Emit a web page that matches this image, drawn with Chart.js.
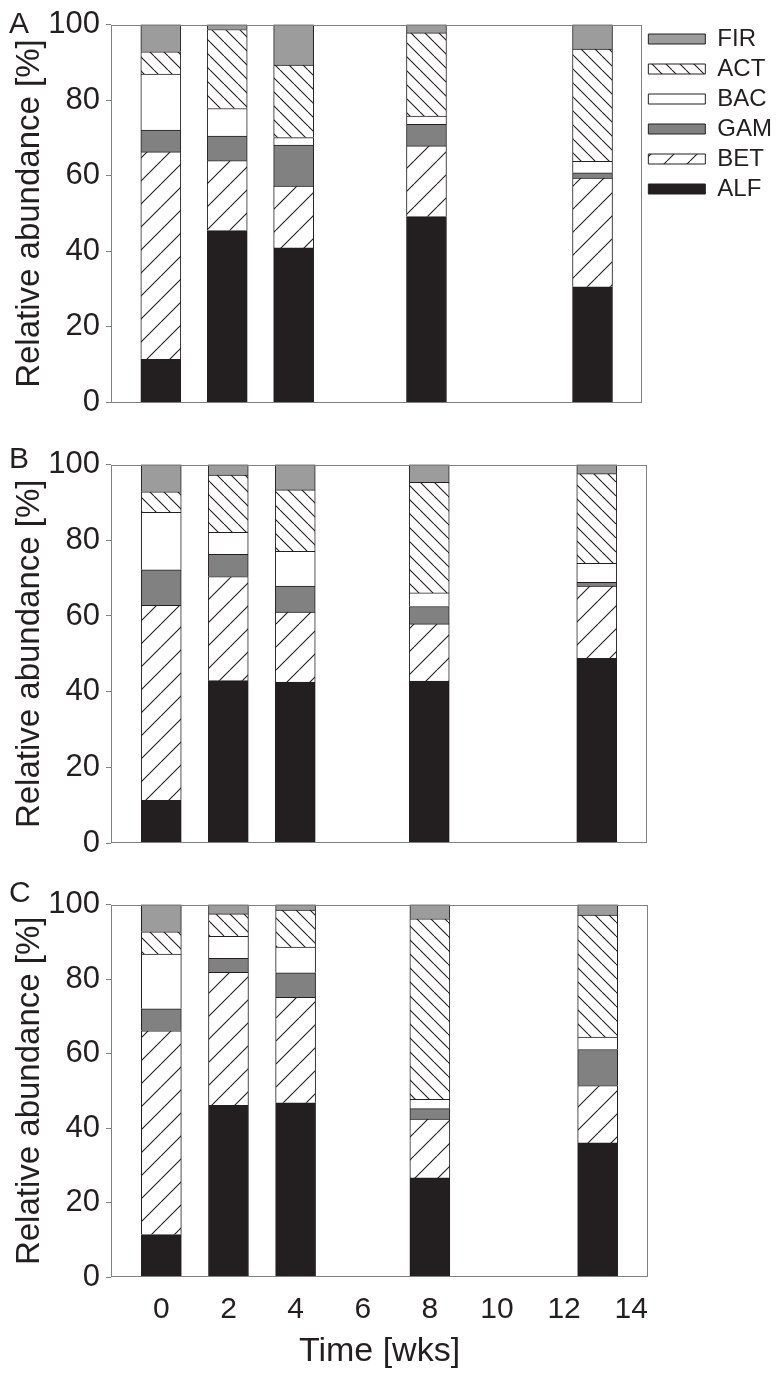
<!DOCTYPE html>
<html>
<head>
<meta charset="utf-8">
<title>Relative abundance</title>
<script src="https://cdn.jsdelivr.net/npm/chart.js@4.4.1/dist/chart.umd.min.js"></script>
<style>
  body { margin: 0; background: #fff; }
  #wrap { position: relative; width: 782px; height: 1376px; }
  canvas { position: absolute; left: 0; }
</style>
</head>
<body>
<div id="wrap">
  <canvas id="chartA" width="782" height="440" style="top:0px"></canvas>
  <canvas id="chartB" width="782" height="440" style="top:440px"></canvas>
  <canvas id="chartC" width="782" height="496" style="top:880px"></canvas>
</div>

<script>
// sampling times (weeks) and axis ticks
const weeks = [0, 2, 4, 8, 13];
const xTicks = [0, 2, 4, 6, 8, 10, 12, 14];
const yTicks = [0, 20, 40, 60, 80, 100];
const groups = ['ALF', 'BET', 'GAM', 'BAC', 'ACT', 'FIR'];

// panel A, % per group
const alfA = [11.4, 45.5, 40.9, 49.2, 30.6];
const betA = [54.9, 18.5, 16.4, 18.7, 28.8];
const gamA = [5.8, 6.5, 10.8, 5.7, 1.4];
const bacA = [14.8, 7.3, 2.0, 2.2, 3.0];
const actA = [5.9, 20.9, 19.2, 22.0, 29.7];
const firA = [7.2, 1.3, 10.7, 2.2, 6.5];

// panel B
const alfB = [11.3, 42.9, 42.5, 42.8, 48.8];
const betB = [51.5, 27.5, 18.5, 15.1, 19.1];
const gamB = [9.4, 5.9, 6.9, 4.6, 1.0];
const bacB = [15.2, 5.8, 9.2, 3.6, 5.0];
const actB = [5.4, 15.1, 16.2, 29.2, 23.7];
const firB = [7.2, 2.8, 6.7, 4.7, 2.4];

// panel C
const alfC = [11.4, 46.1, 46.8, 26.6, 36.0];
const betC = [54.7, 35.7, 28.3, 15.8, 15.4];
const gamC = [5.9, 3.8, 6.6, 2.8, 9.7];
const bacC = [14.7, 5.9, 6.9, 2.5, 3.3];
const actC = [6.0, 6.0, 9.9, 48.5, 32.8];
const firC = [7.3, 2.5, 1.5, 3.8, 2.8];

const ink = '#231f20';
const fontFamily = "'Liberation Sans', Arial, sans-serif";
Chart.defaults.font.family = fontFamily;
Chart.defaults.color = ink;

function hatch(dir, step) {
  const c = document.createElement('canvas');
  c.width = step; c.height = step;
  const g = c.getContext('2d');
  g.fillStyle = '#fff';
  g.fillRect(0, 0, step, step);
  g.strokeStyle = ink;
  g.lineWidth = 1.1;
  g.beginPath();
  for (let k = -1; k <= 1; k++) {
    if (dir === '/') { g.moveTo(k * step, step); g.lineTo(k * step + step, 0); }
    else { g.moveTo(k * step, 0); g.lineTo(k * step + step, step); }
  }
  g.stroke();
  return g.createPattern(c, 'repeat');
}

const fills = {
  ALF: ink,
  BET: hatch('/', 23),
  GAM: '#818181',
  BAC: '#ffffff',
  ACT: hatch('\\', 14),
  FIR: '#9c9c9c'
};

// frame round the plot area and the panel letter
const framePlugin = {
  id: 'frame',
  afterDraw(chart, args, opts) {
    const { ctx, chartArea: a } = chart;
    ctx.save();
    ctx.strokeStyle = '#808080';
    ctx.lineWidth = 1;
    ctx.strokeRect(Math.round(a.left) + 0.5, Math.round(a.top) + 0.5,
      Math.round(a.right - a.left) - 1, Math.round(a.bottom - a.top) - 1);
    ctx.fillStyle = ink;
    ctx.font = '30px ' + fontFamily;
    ctx.textBaseline = 'alphabetic';
    ctx.fillText(opts.letter, 9, opts.letterY);
    ctx.restore();
  }
};

function makeChart(id, series, p) {
  const datasets = groups.map((g, i) => ({
    label: g,
    data: weeks.map((w, j) => ({ x: w, y: series[i][j] })),
    backgroundColor: fills[g],
    borderColor: ink,
    borderWidth: 1,
    barThickness: 40
  }));

  return new Chart(document.getElementById(id), {
    type: 'bar',
    data: { datasets: datasets },
    plugins: [framePlugin],
    options: {
      responsive: false,
      animation: false,
      events: [],
      layout: { padding: { top: p.top, right: p.right, left: 0, bottom: 0 } },
      plugins: {
        tooltip: { enabled: false },
        frame: { letter: p.letter, letterY: p.letterY },
        legend: p.legend ? {
          display: true,
          position: 'right',
          align: 'start',
          reverse: true,
          labels: {
            boxWidth: 57,
            boxHeight: 10,
            padding: 6,
            color: ink,
            font: { size: 24 }
          }
        } : { display: false }
      },
      scales: {
        x: {
          type: 'linear',
          min: -1.5,
          max: 14.5,
          offset: false,
          stacked: true,
          afterBuildTicks: s => { s.ticks = xTicks.map(v => ({ value: v })); },
          afterFit: s => { s.height = p.xHeight; },
          grid: { display: false, drawTicks: false, tickLength: 0, offset: false },
          border: { display: false },
          ticks: { display: p.xLabels, padding: 15, color: ink, font: { size: 30 } },
          title: {
            display: p.xLabels,
            text: 'Time [wks]',
            color: ink,
            font: { size: 34 },
            padding: { top: 0, bottom: 4 }
          }
        },
        y: {
          min: 0,
          max: 100,
          stacked: true,
          afterBuildTicks: s => { s.ticks = yTicks.map(v => ({ value: v })); },
          afterFit: s => { s.width = 111; },
          grid: { drawOnChartArea: false, drawTicks: true, tickLength: 5, color: '#808080' },
          border: { display: false },
          ticks: { padding: 6, color: ink, font: { size: 31 } },
          title: {
            display: true,
            text: 'Relative abundance [%]',
            color: ink,
            font: { size: 33 },
            padding: { top: 10, bottom: 0 }
          }
        }
      }
    }
  });
}

makeChart('chartA', [alfA, betA, gamA, bacA, actA, firA],
  { top: 21, right: 0, xHeight: 37.5, xLabels: false, legend: true, letter: 'A', letterY: 33 });
makeChart('chartB', [alfB, betB, gamB, bacB, actB, firB],
  { top: 17, right: 135, xHeight: 37, xLabels: false, legend: false, letter: 'B', letterY: 28 });
makeChart('chartC', [alfC, betC, gamC, bacC, actC, firC],
  { top: 11, right: 134, xHeight: 99, xLabels: true, legend: false, letter: 'C', letterY: 22 });
</script>
</body>
</html>
